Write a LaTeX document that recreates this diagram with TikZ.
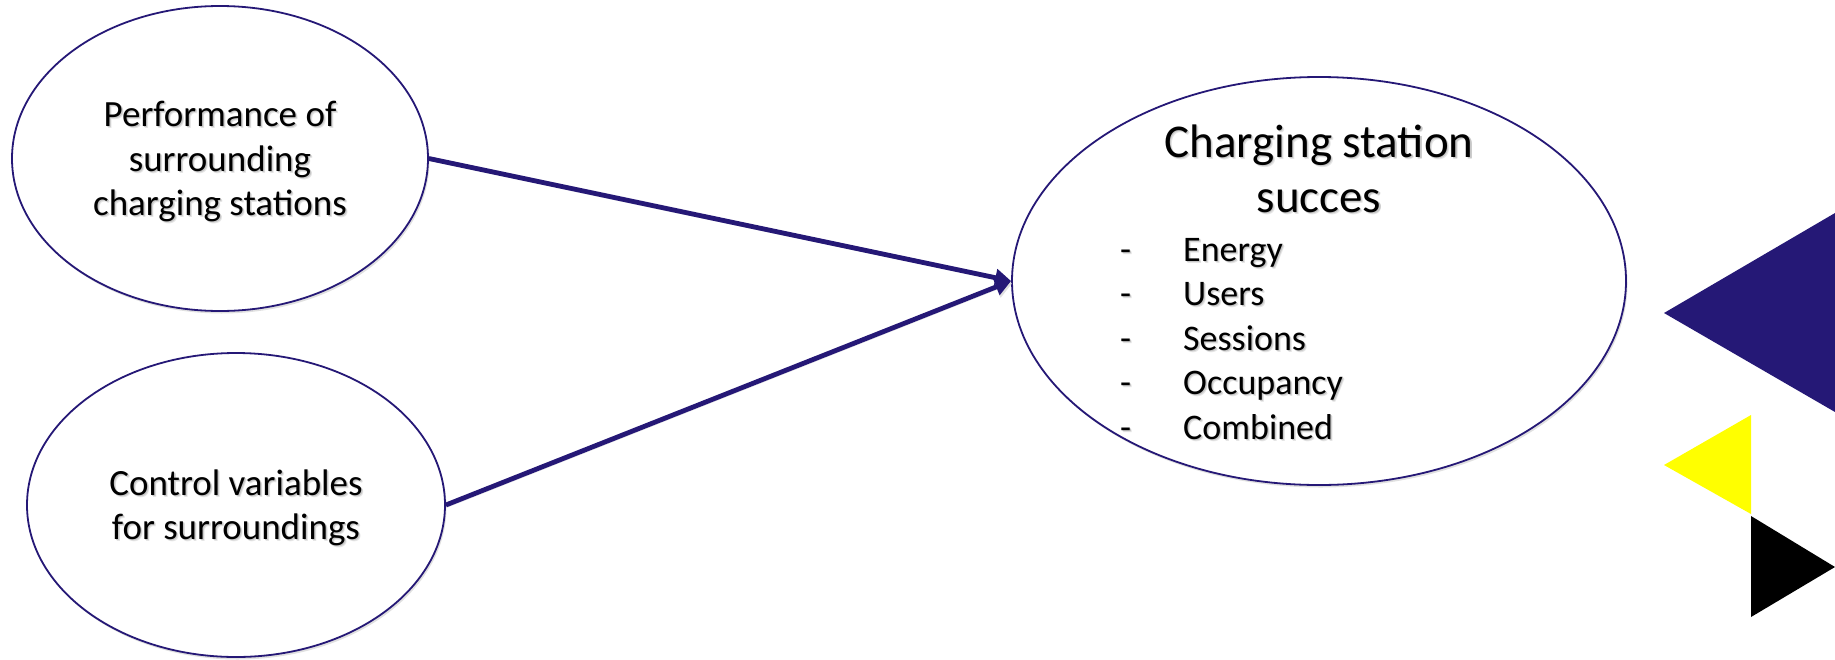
\documentclass[tikz,border=0pt]{standalone}
\usepackage{fontspec}
\setmainfont{Carlito}
\usetikzlibrary{shapes.geometric,arrows.meta,shadows}

\definecolor{navy}{RGB}{37,24,118}
\definecolor{gold}{RGB}{255,255,0}

% text with a soft grey shadow underneath
\newcommand\shtxt[1]{\leavevmode
  \rlap{\kern2pt\raisebox{-2.2pt}{\textcolor{black!10}{#1}}}%
  \rlap{\kern1.2pt\raisebox{-1.3pt}{\textcolor{black!22}{#1}}}#1}

\tikzset{
  bubble/.style={ellipse, draw=navy, line width=1.8pt, fill=white, inner sep=0pt,
    drop shadow={shadow xshift=1.5pt, shadow yshift=-2.5pt, fill=black, opacity=0.12}},
  lbl/.style={font=\fontsize{37}{44}\selectfont, anchor=base, inner sep=0pt},
  ttl/.style={font=\fontsize{47}{56}\selectfont, anchor=base, inner sep=0pt},
  item/.style={font=\fontsize{36}{44}\selectfont, anchor=base west, inner sep=0pt},
  conn/.style={draw=navy, line width=4.8pt, -{Triangle[length=16pt,width=17pt]},
    preaction={draw=black!12, transform canvas={xshift=1pt,yshift=-2.5pt}}},
}

\begin{document}
\begin{tikzpicture}[x=1pt,y=-1pt]
\useasboundingbox (0,0) rectangle (1835,659);

% ellipses
\node[bubble, minimum width=416pt, minimum height=305pt] (e1) at (220,158.5) {};
\node[bubble, minimum width=418pt, minimum height=304pt] (e2) at (236,505) {};
\node[bubble, minimum width=614pt, minimum height=408pt] (e3) at (1319,281) {};

% left labels
\node[lbl] (p1) at (220,126) {\shtxt{Performance of}};
\node[lbl] (p2) at (220,171) {\shtxt{surrounding}};
\node[lbl] (p3) at (220,215.5) {\shtxt{charging stations}};
\node[lbl] (c1) at (236,495) {\shtxt{Control variables}};
\node[lbl] (c2) at (236,539) {\shtxt{for surroundings}};

% right label
\node[ttl] (t1) at (1319,157) {\shtxt{Charging station}};
\node[ttl] (t2) at (1319,212) {\shtxt{succes}};

\foreach \y/\w [count=\i] in {261/Energy,305.5/Users,350/Sessions,394.5/Occupancy,439/Combined}{
  \node[item] (d\i) at (1120,\y) {\shtxt{-}};
  \node[item] (m\i) at (1183,\y) {\shtxt{\w}};
}

% connectors
\draw[conn] (e1.east) -- (e3.west);
\draw[conn] (e2.east) -- (e3.west);

% corner triangles
\fill[navy] (1664,313) -- (1835,213) -- (1835,412) -- cycle;
\fill[gold] (1664,465) -- (1751,415) -- (1751,514) -- cycle;
\fill[black] (1751,516) -- (1751,617) -- (1835,567) -- cycle;
\end{tikzpicture}
\end{document}
